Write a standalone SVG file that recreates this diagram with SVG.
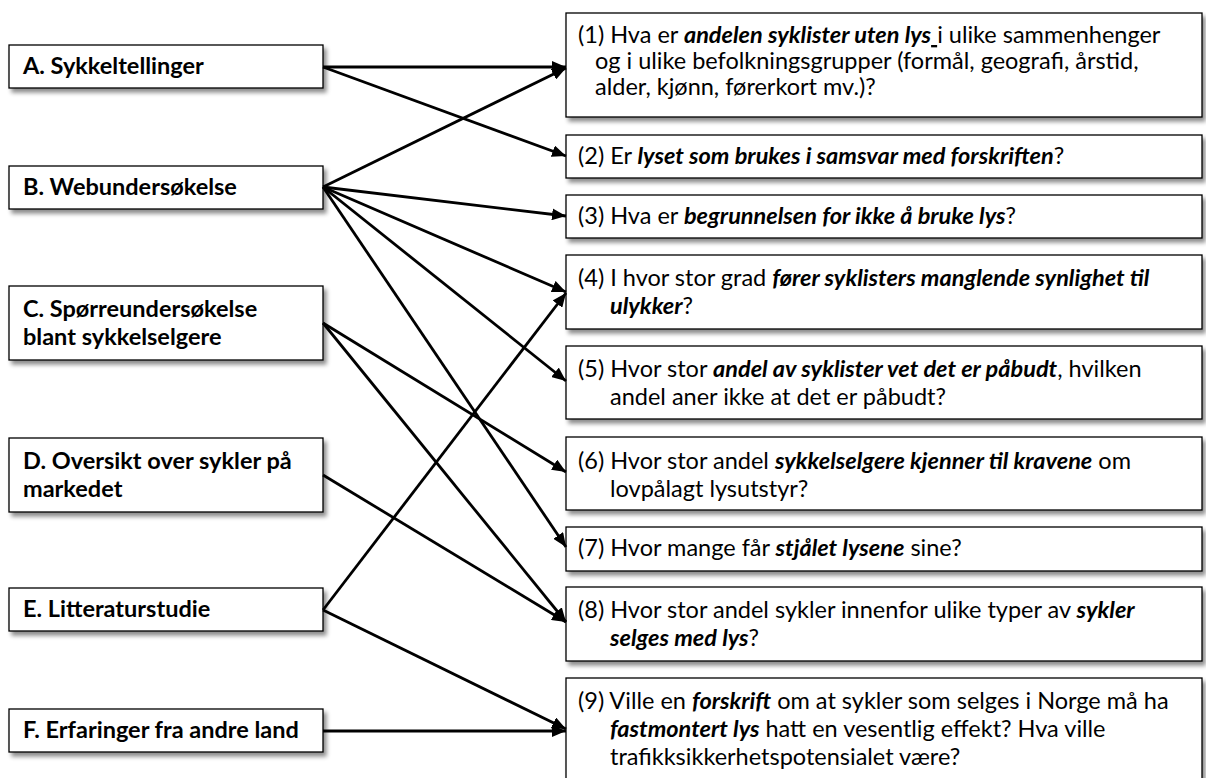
<svg xmlns="http://www.w3.org/2000/svg" width="1206" height="778" viewBox="0 0 1206 778">
  <defs>
    <filter id="sh" x="-5%" y="-20%" width="115%" height="150%">
      <feDropShadow dx="3" dy="4" stdDeviation="2" flood-color="#000" flood-opacity="0.45"/>
    </filter>
    <marker id="ah" markerWidth="14" markerHeight="12" refX="14" refY="6" orient="auto" markerUnits="userSpaceOnUse">
      <path d="M0,0 L14,6 L0,12 z" fill="#000"/>
    </marker>
  </defs>
  <style>
    .box { fill: #fff; stroke: #000; stroke-width: 1.3; filter: url(#sh); }
    .lt { font-family: Lato, Carlito, "Liberation Sans", sans-serif; font-size: 23.5px; font-weight: bold; fill: #000; }
    .rt { font-family: Lato, Carlito, "Liberation Sans", sans-serif; font-size: 23.5px; fill: #000; }
    .bi { font-weight: bold; font-style: italic; }
    .con line { stroke: #000; stroke-width: 2.8; marker-end: url(#ah); }
  </style>
  <rect width="1206" height="778" fill="#fff"/>

  <g id="A"><rect class="box" x="9" y="45" width="314" height="43"/><text class="lt" x="23" y="74">A. Sykkeltellinger</text></g>
  <g id="B"><rect class="box" x="9" y="166" width="314" height="43"/><text class="lt" x="23" y="195">B. Webundersøkelse</text></g>
  <g id="C"><rect class="box" x="9" y="286" width="314" height="74"/><text class="lt" x="23" y="317">C. Spørreundersøkelse</text><text class="lt" x="23" y="345">blant sykkelselgere</text></g>
  <g id="D"><rect class="box" x="9" y="438" width="314" height="74"/><text class="lt" x="23" y="469">D. Oversikt over sykler på</text><text class="lt" x="23" y="497">markedet</text></g>
  <g id="E"><rect class="box" x="9" y="588" width="314" height="43"/><text class="lt" x="23" y="617">E. Litteraturstudie</text></g>
  <g id="F"><rect class="box" x="9" y="709" width="314" height="43"/><text class="lt" x="23" y="738">F. Erfaringer fra andre land</text></g>

  <g id="Q1"><rect class="box" x="566" y="13" width="636" height="104"/>
    <text class="rt" x="578" y="43" xml:space="preserve">(1) Hva er <tspan class="bi">andelen syklister uten lys</tspan><tspan text-decoration="underline"> </tspan>i ulike sammenhenger</text>
    <text class="rt" x="595" y="69">og i ulike befolkningsgrupper (formål, geografi, årstid,</text>
    <text class="rt" x="595" y="95">alder, kjønn, førerkort mv.)?</text></g>
  <g id="Q2"><rect class="box" x="566" y="135" width="636" height="43"/>
    <text class="rt" x="578" y="164">(2) Er <tspan class="bi">lyset som brukes i samsvar med forskriften</tspan>?</text></g>
  <g id="Q3"><rect class="box" x="566" y="195" width="636" height="43"/>
    <text class="rt" x="578" y="224">(3) Hva er <tspan class="bi">begrunnelsen for ikke å bruke lys</tspan>?</text></g>
  <g id="Q4"><rect class="box" x="566" y="255" width="636" height="74"/>
    <text class="rt" x="578" y="286">(4) I hvor stor grad <tspan class="bi">fører syklisters manglende synlighet til</tspan></text>
    <text class="rt" x="610" y="314"><tspan class="bi">ulykker</tspan>?</text></g>
  <g id="Q5"><rect class="box" x="566" y="346" width="636" height="73"/>
    <text class="rt" x="578" y="377">(5) Hvor stor <tspan class="bi">andel av syklister vet det er påbudt</tspan>, hvilken</text>
    <text class="rt" x="610" y="405">andel aner ikke at det er påbudt?</text></g>
  <g id="Q6"><rect class="box" x="566" y="437" width="636" height="73"/>
    <text class="rt" x="578" y="469">(6) Hvor stor andel <tspan class="bi">sykkelselgere kjenner til kravene</tspan> om</text>
    <text class="rt" x="610" y="497">lovpålagt lysutstyr?</text></g>
  <g id="Q7"><rect class="box" x="566" y="527" width="636" height="44"/>
    <text class="rt" x="578" y="556">(7) Hvor mange får <tspan class="bi">stjålet lysene</tspan> sine?</text></g>
  <g id="Q8"><rect class="box" x="566" y="587" width="636" height="74"/>
    <text class="rt" x="578" y="618">(8) Hvor stor andel sykler innenfor ulike typer av <tspan class="bi">sykler</tspan></text>
    <text class="rt" x="610" y="646"><tspan class="bi">selges med lys</tspan>?</text></g>
  <g id="Q9"><rect class="box" x="566" y="678" width="636" height="110"/>
    <text class="rt" x="578" y="709">(9) Ville en <tspan class="bi">forskrift</tspan> om at sykler som selges i Norge må ha</text>
    <text class="rt" x="610" y="737"><tspan class="bi">fastmontert lys</tspan> hatt en vesentlig effekt? Hva ville</text>
    <text class="rt" x="610" y="765">trafikksikkerhetspotensialet være?</text></g>

  <g id="connectors" class="con">
    <line x1="323" y1="67" x2="566" y2="67"/>
    <line x1="323" y1="67" x2="566" y2="156"/>
    <line x1="323" y1="187" x2="566" y2="68"/>
    <line x1="323" y1="187" x2="566" y2="216"/>
    <line x1="323" y1="187" x2="566" y2="292"/>
    <line x1="323" y1="187" x2="566" y2="381"/>
    <line x1="323" y1="187" x2="566" y2="547"/>
    <line x1="323" y1="323" x2="566" y2="472"/>
    <line x1="323" y1="323" x2="566" y2="622"/>
    <line x1="323" y1="475" x2="566" y2="622"/>
    <line x1="323" y1="610" x2="566" y2="293"/>
    <line x1="323" y1="610" x2="566" y2="729"/>
    <line x1="323" y1="731" x2="566" y2="731"/>
  </g>
</svg>
